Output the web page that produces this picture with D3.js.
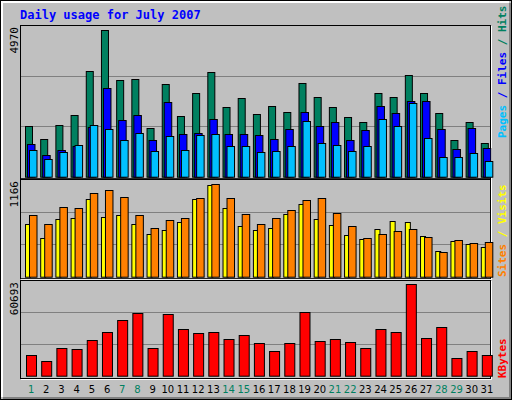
<!DOCTYPE html>
<html>
<head>
<meta charset="utf-8">
<script src="https://cdn.jsdelivr.net/npm/d3@7"></script>
<style>body{margin:0;background:#fff}</style>
</head>
<body>
<script>
// Dati
const days = d3.range(1, 32);
const weekend = [1, 7, 8, 14, 15, 21, 22, 28, 29];
const hits = [1697,1259,1731,2068,3552,4970,3249,3283,1630,3114,2035,2811,3519,2338,2642,2102,2372,2170,3148,2676,2338,2001,1833,2811,2676,3418,2811,2136,1225,1833,1124];
const files = [1090,731,888,1034,1664,2979,1900,2068,1225,2507,1427,1461,1933,1427,1427,1394,1259,1596,2169,1697,1832,1225,1562,2372,2136,2540,2540,1596,922,1630,955];
const pages = [888,584,820,1056,1731,1596,1225,1461,854,1360,888,1394,1427,1023,1023,820,854,1023,1866,1124,1056,854,1023,1933,1697,2473,1293,652,652,787,517];
const visits = [661,484,724,737,977,749,775,661,535,585,686,977,1153,863,636,585,610,787,914,724,648,522,471,598,699,686,509,320,446,408,370];
const sites = [775,661,876,863,1053,1090,1002,775,610,711,737,989,1166,989,787,661,737,838,964,989,800,636,484,535,573,598,497,307,459,421,434];
const kbytes = [13512,9524,18163,17498,23479,28795,36769,41420,18163,40756,30788,28130,28795,24144,26802,21486,16170,21486,42085,22815,24144,22150,18163,30788,28795,60693,24808,32118,11518,16170,13512];

const W = 512, H = 400;
const svg = d3.select("body").append("svg").attr("width", W).attr("height", H);
const mono = "'DejaVu Sans Mono', monospace";

// Sfondo con bordo 3D
svg.append("rect").attr("x", 0.5).attr("y", 0.5).attr("width", W - 1).attr("height", H - 1).attr("fill", "#c0c0c0").attr("stroke", "#000");
svg.append("path").attr("d", `M2,${H - 3}V2H${W - 3}`).attr("stroke", "#fff").attr("fill", "none").attr("stroke-width", 2);
svg.append("path").attr("d", `M3,${H - 2}H${W - 2}V3`).attr("stroke", "#808080").attr("fill", "none").attr("stroke-width", 2);

svg.append("text").attr("x", 20).attr("y", 19).text("Daily usage for July 2007")
  .attr("font-family", mono).attr("font-weight", "bold").attr("font-size", 12).attr("fill", "#0000ff");

const x = d3.scaleBand().domain(days).range([20, 491]);

const panels = [
  { top: 25, base: 176.7, max: 4970, label: [["Pages", "#00c0ff"], [" / ", "#0000ff"], ["Files", "#0000ff"], [" / ", "#008060"], ["Hits", "#008060"]] },
  { top: 179, base: 276.7, max: 1166, label: [["Sites", "#ff8000"], [" / ", "#ffff00"], ["Visits", "#ffff00"]] },
  { top: 280, base: 375.7, max: 60693, label: [["KBytes", "#ff0000"]] }
];

panels.forEach((p, i) => {
  const y0 = p.top, y1 = i === 2 ? 378 : p.base + 1.5;
  p.y = d3.scaleLinear().domain([0, p.max]).range([p.base, i === 0 ? 29.5 : i === 1 ? 184.3 : 284.3]);
  svg.append("rect").attr("x", 20.5).attr("y", y0 + 0.5).attr("width", 470).attr("height", y1 - y0).attr("fill", "#c0c0c0").attr("stroke", "#000");
  svg.append("path").attr("d", `M21,${y1 + 1.5}H491.5V${y0 + 1}`).attr("stroke", "#fff").attr("fill", "none");
  // griglia
  [1 / 3, 2 / 3].forEach((f) => {
    const gy = Math.round(p.base - (p.base - p.top) * f) + 0.5;
    svg.append("line").attr("x1", 21).attr("x2", 490).attr("y1", gy).attr("y2", gy).attr("stroke", "#808080");
  });
  // etichetta massimo
  svg.append("text").attr("transform", `translate(18,${p.top + 2}) rotate(-90)`).attr("text-anchor", "end")
    .attr("font-family", mono).attr("font-size", 11).attr("fill", "#000").text(p.max);
  // legenda a destra
  const t = svg.append("text").attr("transform", `translate(506,${p.base - 40 + (i === 0 ? 0 : 0)}) rotate(-90)`)
    .attr("font-family", mono).attr("font-weight", "bold").attr("font-size", 11);
  if (i === 0) t.attr("transform", "translate(506,138) rotate(-90)");
  if (i === 1) t.attr("transform", "translate(506,277) rotate(-90)");
  if (i === 2) t.attr("transform", "translate(506,378) rotate(-90)");
  p.label.forEach(([s, c]) => t.append("tspan").attr("fill", c).text(s));
});

function bars(data, p, off, w, color) {
  svg.append("g").selectAll("rect").data(data).enter().append("rect")
    .attr("x", (d, i) => x(days[i]) + off + 0.5)
    .attr("y", (d) => Math.round(p.y(d)) + 0.5)
    .attr("width", w)
    .attr("height", (d) => p.base - Math.round(p.y(d)))
    .attr("fill", color).attr("stroke", "#000");
}

bars(hits, panels[0], 5, 7, "#008060");
bars(files, panels[0], 7, 7.5, "#0000ff");
bars(pages, panels[0], 9, 7.5, "#00c0ff");
bars(visits, panels[1], 5, 5, "#ffff00");
bars(sites, panels[1], 9, 7.5, "#ff8000");
bars(kbytes, panels[2], 6, 10, "#ff0000");

svg.append("g").selectAll("text").data(days).enter().append("text")
  .attr("x", (d) => x(d) + x.bandwidth() / 2 + 3.5).attr("y", 393).attr("text-anchor", "middle")
  .attr("font-family", "'DejaVu Sans', sans-serif").attr("font-size", 10)
  .attr("fill", (d) => (weekend.includes(d) ? "#008060" : "#000")).text((d) => d);
</script>
</body>
</html>
